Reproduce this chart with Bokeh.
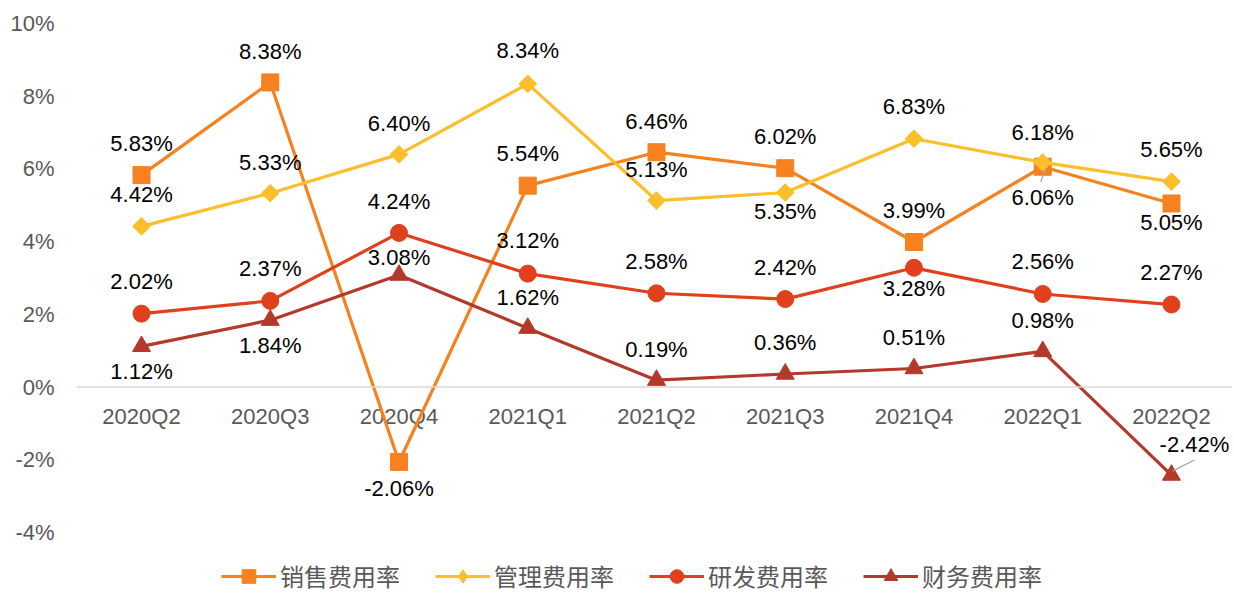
import numpy as np
from bokeh.plotting import figure
from bokeh.models import Range1d, FixedTicker, Legend, LegendItem, ColumnDataSource, Span
from bokeh.core.properties import value
from bokeh.embed import file_html
from bokeh.resources import INLINE

# ---- data ----
categories = ["2020Q2", "2020Q3", "2020Q4", "2021Q1", "2021Q2", "2021Q3", "2021Q4", "2022Q1", "2022Q2"]
sales = [5.83, 8.38, -2.06, 5.54, 6.46, 6.02, 3.99, 6.06, 5.05]
admin = [4.42, 5.33, 6.40, 8.34, 5.13, 5.35, 6.83, 6.18, 5.65]
rnd = [2.02, 2.37, 4.24, 3.12, 2.58, 2.42, 3.28, 2.56, 2.27]
fin = [1.12, 1.84, 3.08, 1.62, 0.19, 0.36, 0.51, 0.98, -2.42]
series_names = ["销售费用率", "管理费用率", "研发费用率", "财务费用率"]
y_ticks = [-4, -2, 0, 2, 4, 6, 8, 10]

# ---- style ----
colors = ["#F5821F", "#FCBF2C", "#E0401C", "#B3392B"]
label_dy = [
    [-32, -31, 27, -32, -31, -32, -32, 31, 19],
    [-32, -31, -31, -33, -31, 19, -32, -30, -32],
    [-32, -32, -31, -33, -32, -32, 21, -32, -32],
    [25, 25, -18, -31, -31, -31, -31, -31, -31],
]
label_dx = [[0] * 9, [0] * 9, [0] * 9, [0] * 8 + [23]]

xs = list(range(len(categories)))

p = figure(width=1232, height=593, output_backend="svg", toolbar_location=None,
           x_range=Range1d(-0.505, 8.474), y_range=Range1d(-5.678, 10),
           min_border_top=23, min_border_left=76, min_border_right=0, min_border_bottom=0)
p.outline_line_color = None
p.xgrid.visible = False
p.ygrid.visible = False
p.background_fill_color = "white"
p.border_fill_color = "white"
p.xaxis.visible = False

# y axis
p.yaxis.ticker = FixedTicker(ticks=y_ticks)
p.yaxis.major_label_overrides = {t: f"{t}%" for t in y_ticks}
p.yaxis.axis_line_color = None
p.yaxis.major_tick_line_color = None
p.yaxis.minor_tick_line_color = None
p.yaxis.major_tick_out = 0
p.yaxis.major_tick_in = 0
p.yaxis.major_label_standoff = 22
p.yaxis.major_label_text_font = "Liberation Sans"
p.yaxis.major_label_text_font_size = "22px"
p.yaxis.major_label_text_color = "#595959"

# zero line and category labels
p.add_layout(Span(location=0, dimension="width", line_color="#D9D9D9", line_width=1.5))
p.text(x=xs, y=[0] * len(xs), text=categories, y_offset=29,
       text_align="center", text_baseline="middle",
       text_font=value("Liberation Sans"), text_font_size="22px", text_color="#595959")

all_series = [sales, admin, rnd, fin]
items = []
for k, (vals, name, col) in enumerate(zip(all_series, series_names, colors)):
    r_line = p.line(xs, vals, line_color=col, line_width=3.2)
    if k == 0:
        r_m = p.scatter(xs, vals, marker="square", size=17, fill_color=col, line_color=col)
        leg = [r_line, r_m]
    elif k == 1:
        r_leg = p.scatter(xs, vals, marker="diamond", size=16, fill_color=col, line_color=col)
        r_m = p.scatter(xs, vals, marker="square", size=12.5, angle=np.pi / 4, fill_color=col, line_color=col)
        leg = [r_line, r_leg]
    elif k == 2:
        r_m = p.scatter(xs, vals, marker="circle", size=17, fill_color=col, line_color=col)
        leg = [r_line, r_m]
    else:
        r_m = p.scatter(xs, vals, marker="triangle", size=18, fill_color=col, line_color=col)
        leg = [r_line, r_m]
    items.append(LegendItem(label=name, renderers=leg))

# leader lines
p.segment(x0=[xs[7] - 0.016, xs[8] + 0.01], y0=[sales[7] - 0.42, fin[8] + 0.11],
          x1=[xs[7] + 0.023, xs[8] + 0.18], y1=[sales[7] - 0.06, fin[8] + 0.42],
          line_color="#A6A6A6", line_width=1.3)

# data labels
for k, vals in enumerate(all_series):
    src = ColumnDataSource(dict(x=xs, y=vals, t=[f"{v:.2f}%" for v in vals],
                                dy=label_dy[k], dx=label_dx[k]))
    p.text(x="x", y="y", text="t", x_offset="dx", y_offset="dy", source=src,
           text_align="center", text_baseline="middle",
           text_font=value("Liberation Sans"), text_font_size="22px", text_color="black")

legend = Legend(items=items, orientation="horizontal", location=(145, 0),
                glyph_width=55, glyph_height=34, label_standoff=4, spacing=35,
                padding=0, margin=0, border_line_color=None, background_fill_alpha=0,
                label_text_font="Noto Sans CJK SC", label_text_font_size="24px",
                label_text_color="#595959")
p.add_layout(legend, "center")

open("out.html", "w").write(file_html(p, INLINE))
